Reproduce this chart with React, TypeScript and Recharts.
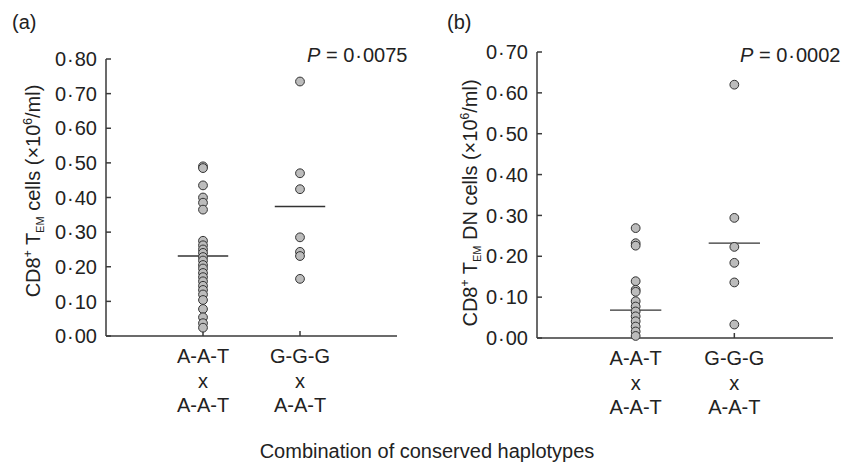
import { ScatterChart, Scatter, XAxis, YAxis, ReferenceLine } from 'recharts';

// group positions on the x axis (numeric, domain 0..3)
const groupPos = [1, 2];
const groupTop = ['A-A-T', 'G-G-G'];
const groupBottom = ['A-A-T', 'A-A-T'];

// (a) CD8+ TEM cells
const temAAT = [
    0.49, 0.485, 0.435, 0.4, 0.385, 0.365,
    0.275, 0.262, 0.25, 0.24, 0.228, 0.218, 0.205, 0.195, 0.182, 0.17,
    0.158, 0.145, 0.133, 0.12, 0.104, 0.078, 0.054, 0.037, 0.024,
];
const temGGG = [0.735, 0.47, 0.424, 0.285, 0.243, 0.231, 0.165];
const temMeans = [0.231, 0.374];
const temTicks = [0, 0.1, 0.2, 0.3, 0.4, 0.5, 0.6, 0.7, 0.8];

// (b) CD8+ TEM DN cells
const dnAAT = [0.269, 0.232, 0.226, 0.139, 0.118, 0.113, 0.09, 0.077, 0.065, 0.053, 0.041, 0.028, 0.016, 0.005];
const dnGGG = [0.62, 0.294, 0.223, 0.184, 0.136, 0.033];
const dnMeans = [0.068, 0.232];
const dnTicks = [0, 0.1, 0.2, 0.3, 0.4, 0.5, 0.6, 0.7];

const FONT = '"Liberation Sans", Arial, sans-serif';
const FS = 20;
const AXIS = '#3a3a3a';
const INK = '#222';

const toPoints = (vals: number[], x: number) => vals.map(v => ({ x, y: v }));

// "0·80" style number with a bit of room around the centred dot
const Dotted = ({ s }: { s: string }) => {
    const [a, b] = s.split('.');
    return (
        <>
            {a}
            <tspan dx={1}>{'\u00B7'}</tspan>
            <tspan dx={1}>{b}</tspan>
        </>
    );
};

const Dot = (p: any) => (
    <circle cx={p.cx} cy={p.cy} r={4.4} fill="#bcbcbc" stroke="#333" strokeWidth={1} />
);

const YTick = (props: any) => {
    const { x, y, payload } = props;
    return (
        <text x={x} y={y} dy="0.36em" textAnchor="end" fontSize={FS} fontFamily={FONT} fill={INK}>
            <Dotted s={payload.value.toFixed(2)} />
        </text>
    );
};

const GroupTick = (props: any) => {
    const { x, y, payload } = props;
    const i = groupPos.indexOf(payload.value);
    return (
        <g>
            <text x={x} y={y + 27} textAnchor="middle" fontSize={FS} fontFamily={FONT} fill={INK}>{groupTop[i]}</text>
            <text x={x} y={y + 52} textAnchor="middle" fontSize={FS} fontFamily={FONT} fill={INK}>x</text>
            <text x={x} y={y + 76} textAnchor="middle" fontSize={FS} fontFamily={FONT} fill={INK}>{groupBottom[i]}</text>
        </g>
    );
};

function YLabel({ cx, cy, dn }: { cx: number; cy: number; dn?: boolean }) {
    return (
        <text x={cx} y={cy} transform={`rotate(-90, ${cx}, ${cy})`} textAnchor="middle" fontSize={FS} fontFamily={FONT} fill={INK}>
            CD8<tspan fontSize={12} dy={-8}>+</tspan>
            <tspan dy={8}> T</tspan>
            <tspan fontSize={11} dy={4}>EM</tspan>
            <tspan dy={-4}>{dn ? ' DN cells (\u00D710' : ' cells (\u00D710'}</tspan>
            <tspan fontSize={12} dy={-8}>6</tspan>
            <tspan dy={8}>/ml)</tspan>
        </text>
    );
}

function Panel({ aat, ggg, means, ticks, width, margin, labelX, labelY, dn }: any) {
    const max = ticks[ticks.length - 1];
    return (
        <ScatterChart width={width} height={462} margin={margin}>
            <XAxis
                type="number"
                dataKey="x"
                domain={[0, 3]}
                ticks={groupPos}
                height={80}
                stroke={AXIS}
                strokeWidth={1.5}
                tickSize={-5}
                tickMargin={5}
                tick={<GroupTick />}
            />
            <YAxis
                type="number"
                dataKey="y"
                domain={[0, max]}
                ticks={ticks}
                width={60}
                stroke={AXIS}
                strokeWidth={1.5}
                tickSize={-5}
                tickMargin={14}
                tick={<YTick />}
                label={{ content: () => <YLabel cx={labelX} cy={labelY} dn={dn} /> }}
            />
            {means.map((m: number, i: number) => (
                <ReferenceLine
                    key={i}
                    segment={[{ x: groupPos[i] - 0.26, y: m }, { x: groupPos[i] + 0.26, y: m }]}
                    stroke="#333"
                    strokeWidth={1.3}
                />
            ))}
            <Scatter data={toPoints(aat, groupPos[0])} shape={Dot} isAnimationActive={false} />
            <Scatter data={toPoints(ggg, groupPos[1])} shape={Dot} isAnimationActive={false} />
        </ScatterChart>
    );
}

export default function App() {
    const txt = { fontSize: FS, fontFamily: FONT, fill: INK };
    return (
        <div style={{ position: 'absolute', left: 0, top: 0, width: 856, height: 462, background: '#fff' }}>
            <div style={{ position: 'absolute', left: 0, top: 0 }}>
                <Panel
                    aat={temAAT}
                    ggg={temGGG}
                    means={temMeans}
                    ticks={temTicks}
                    width={420}
                    margin={{ top: 59, right: 23, bottom: 46, left: 46 }}
                    labelX={40}
                    labelY={191}
                />
            </div>
            <div style={{ position: 'absolute', left: 420, top: 0 }}>
                <Panel
                    aat={dnAAT}
                    ggg={dnGGG}
                    means={dnMeans}
                    ticks={dnTicks}
                    width={436}
                    margin={{ top: 52, right: 23, bottom: 44, left: 57 }}
                    labelX={57}
                    labelY={203}
                    dn
                />
            </div>
            <svg width={856} height={462} style={{ position: 'absolute', left: 0, top: 0, pointerEvents: 'none' }}>
                <text x={12} y={29} {...txt}>(a)</text>
                <text x={447} y={29} {...txt}>(b)</text>
                <text x={307} y={62} {...txt}>
                    <tspan fontStyle="italic">P</tspan> = <Dotted s="0.0075" />
                </text>
                <text x={740} y={62} {...txt}>
                    <tspan fontStyle="italic">P</tspan> = <Dotted s="0.0002" />
                </text>
                <text x={427} y={458} textAnchor="middle" {...txt}>Combination of conserved haplotypes</text>
            </svg>
        </div>
    );
}
